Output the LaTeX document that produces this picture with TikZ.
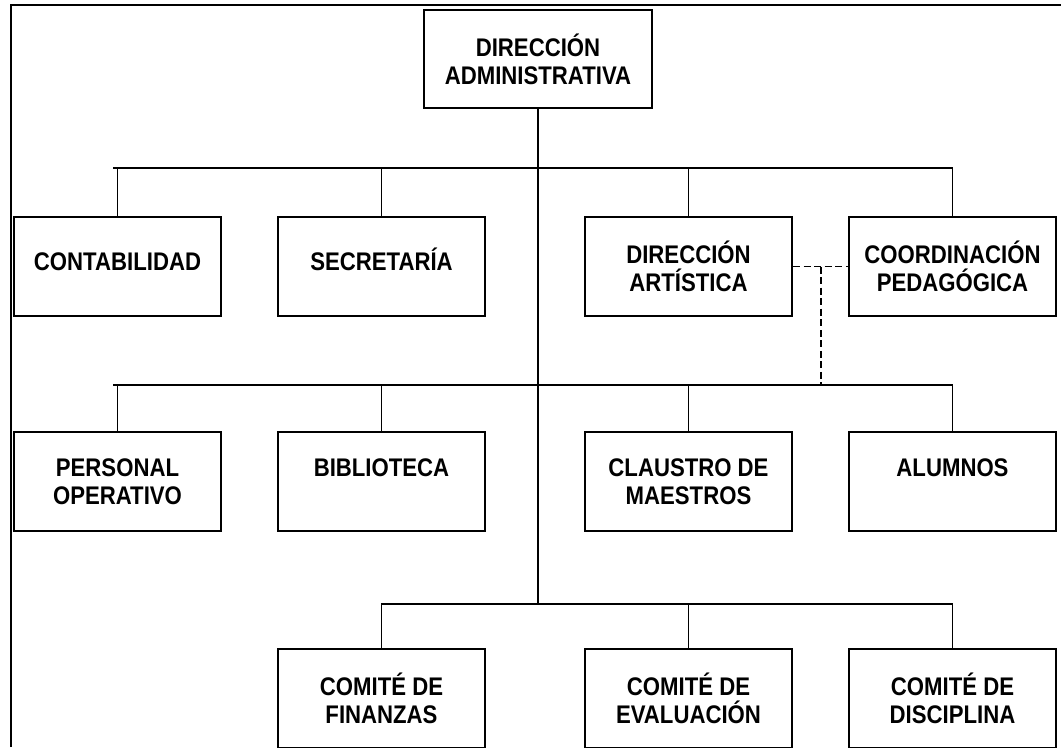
\documentclass[tikz,border=0pt]{standalone}
\usepackage{fontspec}
\setmainfont[FakeStretch=0.87]{Liberation Sans}
\usetikzlibrary{positioning}
\tikzset{
  caja/.style={draw, line width=1.2pt, minimum width=4.14cm, minimum height=1.98cm,
    align=center, inner sep=0pt, font=\bfseries\fontsize{14.5}{16}\selectfont},
  arriba/.style={text height=0.37cm, text depth=0.2cm},   % Text etwas hoeher
  oben/.style={text height=0.37cm, text depth=0.58cm},    % Text in der ersten Zeile
  linea/.style={line width=1pt},
  barra/.style={line width=1.2pt}
}

\begin{document}
\begin{tikzpicture}[x=0.02cm, y=-0.02cm] % 1 Einheit = 1 Pixel

\useasboundingbox (0,0) rectangle (1061,747);

% Rahmen
\draw[line width=1.1pt] (11,747) -- (11,5) -- (1061,5);

% Kaesten
\node[caja, minimum width=4.56cm, minimum height=1.96cm] (dir) at (538,59) {DIRECCIÓN\\ADMINISTRATIVA};

\node[caja, arriba] (cont) at (117.5,266.5) {CONTABILIDAD};
\node[caja, arriba] (secr) at (381.5,266.5) {SECRETARÍA};
\node[caja] (dart) at (688.5,266.5) {DIRECCIÓN\\ARTÍSTICA};
\node[caja] (coord) at (952.5,266.5) {COORDINACIÓN\\PEDAGÓGICA};

\node[caja] (pers) at (117.5,481.5) {PERSONAL\\OPERATIVO};
\node[caja, oben] (bibl) at (381.5,481.5) {BIBLIOTECA};
\node[caja] (claus) at (688.5,481.5) {CLAUSTRO DE\\MAESTROS};
\node[caja, oben] (alum) at (952.5,481.5) {ALUMNOS};

\node[caja] (fin) at (381.5,698.5) {COMITÉ DE\\FINANZAS};
\node[caja] (eval) at (688.5,698.5) {COMITÉ DE\\EVALUACIÓN};
\node[caja] (disc) at (952.5,698.5) {COMITÉ DE\\DISCIPLINA};

% Verbindungen
\coordinate (b1) at (113,168);
\coordinate (b2) at (113,385);
\coordinate (b3) at (381,604);
\draw[linea] (dir.south) -- (dir.south |- b3); % Stamm
\draw[barra] (b1) -- (b1 -| coord.north);
\draw[barra] (b2) -- (b2 -| alum.north);
\draw[barra] (b3) -- (b3 -| disc.north);
\foreach \n in {cont, secr, dart, coord}
  \draw[linea] (\n.north |- b1) -- (\n.north);
\foreach \n in {pers, bibl, claus, alum}
  \draw[linea] (\n.north |- b2) -- (\n.north);
\foreach \n in {fin, eval, disc}
  \draw[linea] (\n.north |- b3) -- (\n.north);

% gestrichelt
\coordinate (c) at (821,266.5);
\draw[linea, dash pattern=on 4pt off 2pt] (dart.east) -- (coord.west);
\draw[linea, dash pattern=on 4pt off 2pt] (c) -- (c |- b2);

\end{tikzpicture}
\end{document}
